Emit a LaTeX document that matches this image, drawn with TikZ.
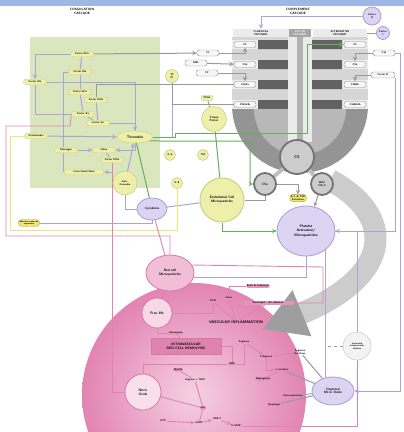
\documentclass[tikz,border=0pt]{standalone}
\usepackage{tikz}
\usetikzlibrary{arrows,shapes,backgrounds}
\pgfdeclarelayer{bg}
\pgfdeclarelayer{wires}
\pgfsetlayers{bg,wires,main}
\definecolor{topblue}{RGB}{160,182,228}
\definecolor{panel}{RGB}{218,231,190}
\definecolor{facfill}{RGB}{237,239,170}
\definecolor{facline}{RGB}{205,208,132}
\definecolor{gline}{RGB}{100,175,92}
\definecolor{lline}{RGB}{170,165,215}
\definecolor{pline}{RGB}{222,132,175}
\definecolor{yline}{RGB}{242,228,112}
\definecolor{lavfill}{RGB}{220,212,242}
\definecolor{lavline}{RGB}{168,158,208}
\definecolor{pinkfill}{RGB}{242,190,215}
\definecolor{pinkline}{RGB}{214,120,166}
\definecolor{pinkin}{RGB}{246,208,228}
\definecolor{pinkout}{RGB}{226,132,178}
\definecolor{dkgrey}{RGB}{98,98,98}
\newcommand{\fsz}[2]{\fontsize{#1}{#2}\selectfont\sffamily\bfseries}

\begin{document}
\begin{tikzpicture}[x=1pt,y=-1pt,>=stealth,
  every node/.style={font=\fsz{2.6}{3},align=center,inner sep=0.6pt},
  fac/.style={draw=facline,fill=facfill,rounded corners=2.5pt,minimum height=5.5pt,minimum width=23pt},
  ybox/.style={draw=yline!70!black,fill=yline,rounded corners=2.5pt,inner sep=1pt},
  yc/.style={circle,draw=facline,fill=facfill,line width=0.6pt,inner sep=0pt},
  cp/.style={draw=black!45,fill=black!3,rounded corners=2.5pt,minimum height=6pt,minimum width=22pt},
  gc/.style={circle,draw=black!55,line width=1.8pt,fill=black!20,inner sep=0pt},
  lav/.style={ellipse,draw=lavline,fill=lavfill,line width=0.8pt,inner sep=0pt},
  pk/.style={ellipse,draw=pinkline,fill=pinkfill,line width=0.8pt,inner sep=0pt},
  pp/.style={fill=pline!85,rounded corners=1pt,inner sep=0.6pt},
  gl/.style={gline,line width=1pt},
  ll/.style={lline,line width=1pt},
  pl/.style={pline,line width=0.9pt},
  yl/.style={yline,line width=1pt},
  grl/.style={black!40,line width=1pt}]
\useasboundingbox (0,0) rectangle (404,432);

%% headings
\fill[topblue] (0,0) rectangle (404,6);
\node[font=\fsz{3.2}{3.8}] (coag) at (82,11) {COAGULATION\\CASCADE};
\node[font=\fsz{3.2}{3.8}] (comp) at (298,11) {COMPLEMENT\\CASCADE};

\begin{pgfonlayer}{bg}
\fill[panel] (30,37) rectangle (160,188);
\shade[inner color=pinkin,outer color=pinkout] (194,395) circle (112);
% complement block
\fill[black!42] (232,105) -- (368,105) arc[start angle=0,end angle=180,radius=68] -- cycle;
\fill[black!16] (232,37) rectangle (368,108);
\fill[black!7] (232,40) rectangle (368,49);
\fill[black!7] (232,60) rectangle (368,69);
\fill[black!7] (232,80) rectangle (368,89);
\fill[black!7] (232,100) rectangle (368,109);
\fill[dkgrey] (258,40) rectangle (290,49) (312,40) rectangle (342,49);
\fill[dkgrey] (258,60) rectangle (290,69) (312,60) rectangle (342,69);
\fill[dkgrey] (258,80) rectangle (290,89) (312,80) rectangle (342,89);
\fill[dkgrey] (258,100) rectangle (290,109) (312,100) rectangle (342,109);
\fill[black!28] (346,109) arc[start angle=0,end angle=180,radius=46] -- cycle;
\fill[black!8] (288,37) rectangle (312,142);
\fill[black!30] (297,37) rectangle (303,150);
% big arrow
\draw[black!20,line width=22pt] (330,180) .. controls (395,215) and (395,275) .. (300,314);
\fill[black!38] (263,329) -- (311.5,336.3) -- (292.5,290.1) -- cycle;
\end{pgfonlayer}

%% coagulation cascade
\node[fac] (f12) at (82,54) {Factor XIIa};
\node[fac] (f11) at (80,72) {Factor XIa};
\node[fac] (f9) at (35,82) {Factor IXa};
\node[fac] (f7) at (80,92) {Factor VIIa};
\node[fac] (f8) at (96,100) {Factor VIIIa};
\node[fac] (f10) at (83,114) {Factor Xa};
\node[fac] (f5) at (98,123) {Factor Va};
\node[fac] (pro) at (36,136) {Prothrombin};
\node[fac,ellipse,minimum width=36pt,minimum height=12pt,font=\fsz{3.6}{4}] (thr) at (135,137) {Thrombin};
\node[fac] (fib) at (66,150) {Fibrinogen};
\node[fac] (fbn) at (104,150) {Fibrin};
\node[fac] (f13) at (112,160) {Factor XIIIa};
\node[fac,minimum width=40pt] (xfb) at (84,172) {Cross-linked fibrin};
\node[yc,minimum size=24pt] (at) at (125,183) {Anti-\\thrombin};
\node[lav,minimum width=30pt,minimum height=22pt,font=\fsz{3.2}{3.6}] (cyt) at (152,209) {Cytokines};
\node[ybox,font=\fsz{2.2}{2.6}] (adh) at (29,223) {Adhesion molecule\\expression};
\node[yc,minimum size=13pt] (tfp) at (172,76) {TF\\PI};
\node[fac,minimum width=12pt] (psg) at (207,98) {PSGL};
\node[yc,minimum size=25pt,font=\fsz{3}{3.4}] (tf) at (214,119) {Tissue\\Factor};
\node[yc,minimum size=11pt] (il6) at (170,155) {IL-6};
\node[yc,minimum size=11pt] (tm) at (203,155) {TM};
\node[yc,minimum size=11pt] (il8) at (177,183) {IL-8};
\node[yc,minimum size=44pt,line width=1pt,font=\fsz{3.4}{3.9}] (ecm) at (222,200) {Endothelial Cell\\Microparticles};

%% complement cascade
\node[fill=black!8,minimum width=56pt,minimum height=8pt,inner sep=0pt] (cla) at (261,33) {CLASSICAL\\PATHWAY};
\node[fill=black!35,text=white,minimum width=22pt,minimum height=8pt,inner sep=0pt] (lec) at (300,33) {LECTIN\\PATHWAY};
\node[fill=black!8,minimum width=54pt,minimum height=8pt,inner sep=0pt] (alt) at (340,33) {ALTERNATIVE\\PATHWAY};
\node[cp] (c4) at (245,44.5) {C4};
\node[cp] (c4b) at (245,64.5) {C4b};
\node[cp] (c4b2a) at (245,84.5) {C4b2a};
\node[cp] (c4b2a3b) at (245,104.5) {C4b2a3b};
\node[cp] (c3) at (355,44.5) {C3};
\node[cp] (c3b) at (355,64.5) {C3b};
\node[cp] (c3bbb) at (355,84.5) {C3bBb};
\node[cp] (c3bbb3b) at (355,104.5) {C3bBb3b};
\node[cp] (c1) at (208,53) {C1};
\node[cp] (mbl) at (196,63) {MBL};
\node[cp] (c2) at (207,73) {C2};
\node[cp] (c3a) at (384,53) {C3a};
\node[cp,minimum width=24pt] (fd) at (383,75) {Factor D};
\node[lav,minimum size=18pt] (fh) at (372,16) {Factor\\H};
\node[lav,minimum size=13pt] (fi) at (383,33) {Factor\\I};
\node[gc,minimum size=34pt,font=\fsz{4}{4.4}] (c5) at (297,157) {C5};
\node[gc,minimum size=22pt,font=\fsz{3.2}{3.6}] (c5a) at (265,184) {C5a};
\node[gc,minimum size=22pt] (mac) at (322,184) {MAC\\C5b-9};
\node[ybox] (sca) at (298,198) {IL-1 \& TNF\\Activation};
\node[lav,minimum width=58pt,minimum height=50pt,font=\fsz{3.6}{4.2}] (pla) at (306,231) {Platelet\\Activation/\\Microparticles};

%% hemolysis
\node[pk,minimum width=48pt,minimum height=36pt,font=\fsz{3.4}{3.9}] (rcm) at (170,273) {Red cell\\Microparticles};
\node[pk,circle,fill=pinkfill!60!white,minimum size=30pt,font=\fsz{3.6}{4}] (fhb) at (157,313) {Free Hb};
\node[font=\fsz{3.8}{4.2}] (vi) at (236,322) {VASCULAR INFLAMMATION};
\node[fill=pline,draw=pinkline,minimum width=70pt,minimum height=16pt,font=\fsz{3.4}{3.9}] (ivh) at (186,346) {INTRAVASCULAR\\RED CELL HEMOLYSIS};
\node[pp] (ldh) at (213,301) {LDH};
\node[pp] (hem) at (229,298) {Heme};
\node[pp] (eac) at (258,286) {Endo \& Leukocyte};
\node[pp,minimum width=52pt] (nea) at (268,303) {Neutrophil -- EC adhesion};
\node[pp] (hpx) at (176,333) {Hemopexin};
\node (arg) at (244,342) {Arginase};
\node (larg) at (266,357) {L-Arginine};
\node (orn) at (300,352) {Arginase\\Ornithine};
\node (lcit) at (282,370) {L-citrulline};
\node[pp] (ros) at (232,364) {ROS};
\node[pp] (hmx) at (178,370) {MetHb};
\node (nadp) at (195,380) {Arginine + NOS};
\node[pp] (hpt) at (263,379) {Haptoglobin};
\node (vdl) at (293,396) {Vasoconstriction};
\node (dys) at (274,405) {Dysphagia};
\node[pp] (sgc) at (203,408) {sGC};
\node (gtp) at (163,421) {GTP};
\node (cgmp) at (199,423) {cGMP};
\node (pde) at (217,419) {PDE-5};
\node (gmp) at (236,426) {5'-GMP};
\node[pk,circle,fill=pinkfill!50!white,minimum size=36pt,font=\fsz{3.4}{3.9}] (nox) at (143,392) {Nitric\\Oxide};
\node[lav,minimum width=42pt,minimum height=28pt,font=\fsz{3.2}{3.7}] (dno) at (333,391) {Depleted\\Nitric Oxide};
\node[circle,draw=black!25,fill=green!5!black!5,minimum size=28pt,inner sep=0pt,font=\fsz{2.4}{2.8}] (iic) at (357,346) {Increased\\intravascular\\calcium};

\begin{pgfonlayer}{wires}
% coagulation links
\draw[ll] (f12) -- (f11);
\draw[ll] (f11) -- (f7);
\draw[ll,->] (f12.west) -| (f9);
\draw[ll] (f9) |- (f10);
\draw[ll] (f7) -- (f10);
\draw[ll] (f8) -- (f5);
\draw[ll] (f10) -- (f5);
\draw[ll,->] (f5) -| (thr);
\draw[ll,->] (pro) -- (thr);
\draw[ll] (f9) -| (thr);
\draw[ll,->] (thr) |- (fbn);
\draw[ll,->] (fib) -- (fbn);
\draw[ll] (fbn) -- (f13);
\draw[ll,->] (f13) |- (xfb);
\draw[ll,->] (at) -- (thr);
\draw[ll] (f11.west) -| (xfb.west);
\draw[ll] (tfp) |- (thr);
\draw[ll] (adh) -| (cyt);
\draw[ll] (at) |- (cyt);
\draw[ll] (cyt) -- (ecm);
% thrombin into complement
\draw[gl,->] (thr.east) -- (175,137) |- (307,133) |- (c3.west);
\draw[gl,->] (thr.-15) -- (160,141) -- (250,141) |- (c5a);
\draw[gl] (thr) -- (cyt);
\draw[gl] (tf) -- (ecm);
\draw[gl,->] (ecm) |- (pla);
\draw[grl,->] (f12) -- (c1);
\draw[grl,->] (c1) -| (c4);
\draw[grl,->] (mbl) -- (c4b);
\draw[grl,->] (c2) -| (c4b2a);
\draw[grl] (c4b2a) -| (f8);
\draw[grl] (c4b2a3b.west) -| (tfp);
\draw[grl] (psg) -- (tf);
\draw[grl,->] (c5a) -| (sca);
\draw[grl] (c5a) |- (ecm);
\draw[grl,->] (mac) -- (pla);
\draw[black!25,line width=4pt] (c5) -- (c5a) (c5) -- (mac);
% regulators
\draw[ll,->] (fh) -| (cla);
\draw[grl] (fi) -- (alt);
\draw[grl,->] (c3a) -| (c3b);
\draw[grl,->] (fd) -| (c3bbb);
\draw[ll,->] (c3a.east) -- (400,53) |- (dno.east);
\draw[ll,->] (fd.south east) |- (pla);
\draw[ll] (pla) -| (iic);
\draw[ll,->] (pla.-45) -- (pla.-45 |- dno.west);
\draw[grl,dashed] (iic) -- (iic -| pla.-45);
% pink and yellow frames
\draw[pl] (f10.west) -- (70,126) -- (6,126) -- (6,236) -| (rcm);
\draw[yl] (pro.west) -| (10,230) -| (il8);
\draw[pl] (cyt) -- (rcm);
\draw[pl] (rcm) -- (fhb);
\draw[pl] (rcm.20) -- (323,267) |- (nea);
\draw[ll] (rcm.-10) -| (pla);
\draw[pl] (f13) |- (nox);
% hemolysis links
\draw[pl] (fhb) -| (ldh);
\draw[pl] (eac) -| (hem);
\draw[pl] (hem) -- (vi);
\draw[pl] (ldh) -- (vi);
\draw[pl] (nea) -- (vi);
\draw[pl] (fhb) |- (hpx);
\draw[pl] (hpx) -- (ivh);
\draw[pl] (ivh) -| (ros);
\draw[pl] (arg) |- (ros);
\draw[pl,->] (arg) -- (larg);
\draw[pl] (larg) -- (orn);
\draw[pl,->] (larg) |- (lcit);
\draw[pl] (nox) |- (ros);
\draw[pl] (hmx) -- (nadp);
\draw[pl] (nadp) -- (sgc);
\draw[pl] (nox) -- (sgc);
\draw[pl,->] (gtp) -- (cgmp);
\draw[pl] (sgc) -- (cgmp);
\draw[pl,->] (cgmp) -- (pde);
\draw[pl,->] (pde) -- (gmp);
\draw[pl] (hpt) -- (lcit);
\draw[pl] (iic) |- (gmp);
\draw[grl] (orn) -- (dno);
\draw[grl] (lcit) -- (dno);
\draw[ll] (vdl) -- (dno);
\draw[grl] (dys) -- (dno);
\end{pgfonlayer}
\end{tikzpicture}
\end{document}
